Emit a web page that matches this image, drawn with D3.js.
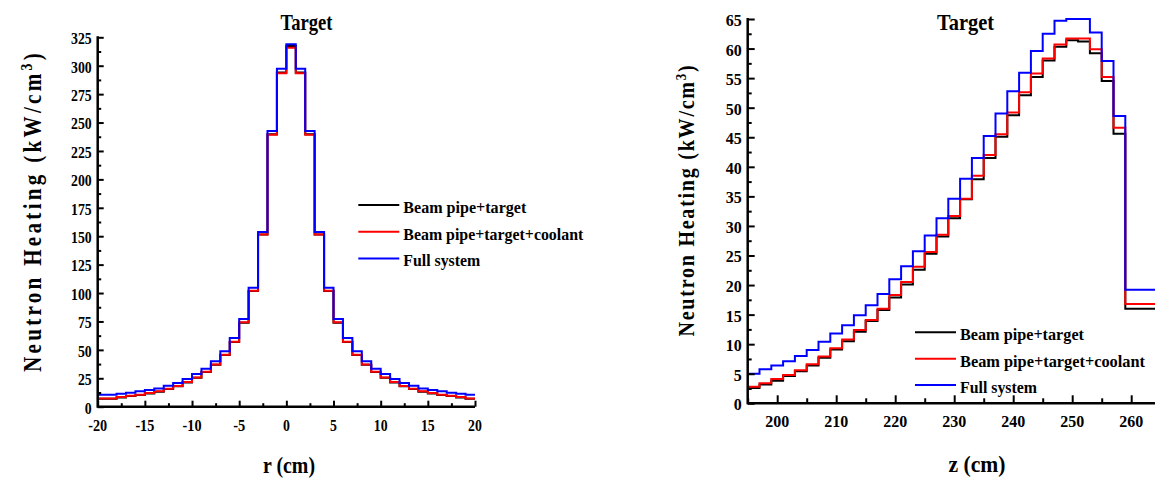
<html>
<script src='https://d3js.org/d3.v7.min.js'></script>
<style>
  body { margin: 0; background: #fff; }
  text { font-family: "Liberation Serif", "Times New Roman", Tinos, "Nimbus Roman", FreeSerif, "DejaVu Serif", serif; font-weight: bold; }
</style>
<body>
<svg width=1155 height=480></svg>

<script>
// ---- left panel: radial profile, 1 cm bins ----
var rEdges = [-20,-19,-18,-17,-16,-15,-14,-13,-12,-11,-10,-9,-8,-7,-6,-5,-4,-3,-2,-1,0,
              1,2,3,4,5,6,7,8,9,10,11,12,13,14,15,16,17,18,19,20];
var rBlack = [7.0,7.0,8.2,9.4,10.3,11.7,13.2,15.5,17.9,21.4,25.5,30.5,36.9,45.4,56.9,73.9,101.8,151.6,239.8,294.0,
              317.3,294.0,239.8,151.6,101.8,73.9,56.9,45.4,36.9,30.5,25.5,21.4,17.9,15.5,13.2,11.7,10.3,9.4,8.2,7.0];
var rRed   = [7.3,7.3,8.5,9.7,10.6,12.0,13.5,15.8,18.2,21.7,25.8,30.8,37.2,45.7,57.2,74.2,102.0,151.6,239.3,293.3,
              315.9,293.3,239.3,151.6,102.0,74.2,57.2,45.7,37.2,30.8,25.8,21.7,18.2,15.8,13.5,12.0,10.6,9.7,8.5,7.3];
var rBlue  = [10.6,10.6,11.4,12.3,13.5,14.7,16.1,18.5,20.8,24.3,28.7,33.4,39.9,48.7,60.4,77.1,104.7,153.7,242.6,297.4,
              318.8,297.4,242.6,153.7,104.7,77.1,60.4,48.7,39.9,33.4,28.7,24.3,20.8,18.5,16.1,14.7,13.5,12.3,11.4,10.6];

// ---- right panel: axial profile, 2 cm bins ----
var zEdges = [195,197,199,201,203,205,207,209,211,213,215,217,219,221,223,225,227,229,231,233,235,237,
              239,241,243,245,247,249,251,253,255,257,259,265];
var zBlack = [2.6,3.2,3.8,4.6,5.4,6.4,7.7,9.1,10.5,12.1,13.9,15.8,17.9,20.1,22.6,25.3,28.2,31.3,34.5,37.9,41.5,
              45.1,48.7,52.1,55.2,58.0,60.3,61.4,61.2,59.2,54.5,45.6,16.0];
var zRed   = [2.8,3.4,4.1,4.8,5.6,6.6,7.9,9.3,10.8,12.4,14.1,16.0,18.3,20.5,23.1,25.6,28.5,31.7,34.6,38.5,42.0,
              45.5,49.2,52.6,55.8,58.3,60.7,61.7,61.7,59.9,55.2,46.6,16.8];
var zBlue  = [5.0,5.75,6.4,7.1,8.0,9.0,10.4,11.8,13.2,14.9,16.6,18.5,21.0,23.2,25.7,28.4,31.3,34.6,38.0,41.5,45.2,
              49.0,52.8,55.9,59.6,62.5,64.7,65.0,65.0,62.7,57.9,48.6,19.2];

var seriesNames = ["Beam pipe+target", "Beam pipe+target+coolant", "Full system"];
var seriesColors = ["#000000", "#ff0000", "#0000ff"];

var rTicks = [-20,-15,-10,-5,0,5,10,15,20];
var rMinor = [-17.5,-12.5,-7.5,-2.5,2.5,7.5,12.5,17.5];
var hTicksL = [0,25,50,75,100,125,150,175,200,225,250,275,300,325];
var hMinorL = [12.5,37.5,62.5,87.5,112.5,137.5,162.5,187.5,212.5,237.5,262.5,287.5,312.5];
var zTicks = [200,210,220,230,240,250,260];
var zMinor = [195,205,215,225,235,245,255,265];
var hTicksR = [0,5,10,15,20,25,30,35,40,45,50,55,60,65];
var hMinorR = [2.5,7.5,12.5,17.5,22.5,27.5,32.5,37.5,42.5,47.5,52.5,57.5,62.5];

var svg = d3.select("svg");

// the original lettering is tall and narrow: squeeze text to a given width
function fitWidth(sel, w) {
  sel.attr("textLength", w).attr("lengthAdjust", "spacingAndGlyphs");
}
function numWidth(s, dw) {
  var n = 0;
  String(s).split("").forEach(function(c){ n += (c == "-") ? dw * 0.75 : dw; });
  return n;
}

function drawPanel(opt) {
  var x = d3.scaleLinear().domain(opt.xDomain).range(opt.xRange);
  var y = d3.scaleLinear().domain(opt.yDomain).range(opt.yRange);
  var g = svg.append("g");

  // step curves
  var line = d3.line()
    .x(function(d){ return x(d[0]); })
    .y(function(d){ return y(d[1]); })
    .curve(d3.curveStepAfter);
  opt.series.forEach(function(vals, i) {
    var pts = vals.map(function(v, j){ return [opt.edges[j], v]; });
    pts.push([opt.edges[opt.edges.length-1], vals[vals.length-1]]);
    g.append("path")
      .datum(pts)
      .attr("d", line)
      .attr("fill", "none")
      .attr("stroke", seriesColors[i])
      .attr("stroke-width", 2);
  });

  // axes, ticks pointing inward
  var xAx = g.append("g").attr("transform", "translate(0," + opt.yRange[0] + ")")
    .call(d3.axisTop(x).tickValues(opt.xTicks).tickSize(opt.majorX).tickFormat(""));
  xAx.append("g").call(d3.axisTop(x).tickValues(opt.xMinor).tickSize(opt.minorX).tickFormat(""));
  var yAx = g.append("g").attr("transform", "translate(" + opt.xRange[0] + ",0)")
    .call(d3.axisRight(y).tickValues(opt.yTicks).tickSize(opt.majorY).tickFormat(""));
  yAx.append("g").call(d3.axisRight(y).tickValues(opt.yMinor).tickSize(opt.minorY).tickFormat(""));
  g.selectAll(".domain").remove();
  g.selectAll(".tick line").attr("stroke", "#000").attr("stroke-width", 2);

  g.append("line").attr("x1", opt.xRange[0]).attr("x2", opt.xRange[1])
    .attr("y1", opt.yRange[0]).attr("y2", opt.yRange[0])
    .attr("stroke", "#000").attr("stroke-width", 2.5);
  g.append("line").attr("x1", opt.xRange[0]).attr("x2", opt.xRange[0])
    .attr("y1", opt.yRange[0] + 1).attr("y2", opt.yRange[1] - 1)
    .attr("stroke", "#000").attr("stroke-width", 2.5);

  // tick labels
  g.selectAll("xlab").data(opt.xTicks).enter().append("text")
    .attr("x", function(d){ return x(d); })
    .attr("y", opt.yRange[0] + opt.xLabOff)
    .attr("text-anchor", "middle")
    .style("font-size", opt.tickFont + "px")
    .attr("textLength", function(d){ return numWidth(d, opt.digitW); })
    .attr("lengthAdjust", "spacingAndGlyphs")
    .text(function(d){ return d; });
  g.selectAll("ylab").data(opt.yTicks).enter().append("text")
    .attr("x", opt.xRange[0] - 6)
    .attr("y", function(d){ return y(d); })
    .attr("dy", "0.4em")
    .attr("text-anchor", "end")
    .style("font-size", opt.tickFont + "px")
    .attr("textLength", function(d){ return numWidth(d, opt.digitW); })
    .attr("lengthAdjust", "spacingAndGlyphs")
    .text(function(d){ return d; });

  // title
  g.append("text")
    .attr("x", opt.title[0]).attr("y", 30)
    .attr("text-anchor", "middle")
    .style("font-size", "23px")
    .text("Target")
    .call(fitWidth, opt.title[1]);

  // axis titles
  g.append("text")
    .attr("x", opt.xTitle[0]).attr("y", opt.xTitle[1])
    .attr("text-anchor", "middle")
    .style("font-size", "23px")
    .text(opt.xName)
    .call(fitWidth, opt.xTitle[2]);

  var yt = g.append("text")
    .attr("transform", "translate(" + opt.yTitle[0] + "," + opt.yTitle[1] + ") rotate(-90)")
    .attr("text-anchor", "middle")
    .style("font-size", opt.yTitleFont + "px")
    .style("letter-spacing", opt.yTitleSpacing + "px");
  yt.append("tspan").text("Neutron Heating (kW/cm");
  yt.append("tspan").attr("baseline-shift", "super").style("font-size", (opt.yTitleFont * 0.65) + "px").text("3");
  yt.append("tspan").text(")");
  yt.call(fitWidth, opt.yTitle[2]);

  // legend
  seriesNames.forEach(function(name, i) {
    var ly = opt.legend[1] + i * opt.legend[2];
    g.append("line")
      .attr("x1", opt.legend[0]).attr("x2", opt.legend[0] + 41)
      .attr("y1", ly).attr("y2", ly)
      .attr("stroke", seriesColors[i]).attr("stroke-width", 2);
    g.append("text")
      .attr("x", opt.legend[0] + 45).attr("y", ly + 8)
      .style("font-size", opt.legendFont + "px")
      .text(name)
      .call(fitWidth, opt.legendW[i]);
  });
}

drawPanel({
  edges: rEdges, series: [rBlack, rRed, rBlue],
  xDomain: [-20, 20], xRange: [97.7, 475],
  yDomain: [0, 325], yRange: [406.7, 37.3],
  xTicks: rTicks, xMinor: rMinor, yTicks: hTicksL, yMinor: hMinorL,
  majorX: 6, minorX: 3.5, majorY: 6, minorY: 3.5,
  tickFont: 17, digitW: 6.9, xLabOff: 24,
  title: [306.5, 52], xName: "r (cm)", xTitle: [289, 473, 52],
  yTitle: [41, 211, 322], yTitleFont: 26, yTitleSpacing: 4,
  legend: [358.3, 205, 26.7], legendFont: 16.5, legendW: [123, 180, 77]
});

drawPanel({
  edges: zEdges, series: [zBlack, zRed, zBlue],
  xDomain: [195, 265], xRange: [747.7, 1160.7],
  yDomain: [0, 65], yRange: [403.3, 19],
  xTicks: zTicks, xMinor: zMinor, yTicks: hTicksR, yMinor: hMinorR,
  majorX: 8, minorX: 5, majorY: 7, minorY: 4,
  tickFont: 17.5, digitW: 8, xLabOff: 23.5,
  title: [965.5, 57], xName: "z (cm)", xTitle: [977, 472, 57],
  yTitle: [693.5, 200, 273], yTitleFont: 23, yTitleSpacing: 2,
  legend: [915, 332.3, 26.4], legendFont: 16, legendW: [124, 185, 77]
});
</script>
</body>
</html>
